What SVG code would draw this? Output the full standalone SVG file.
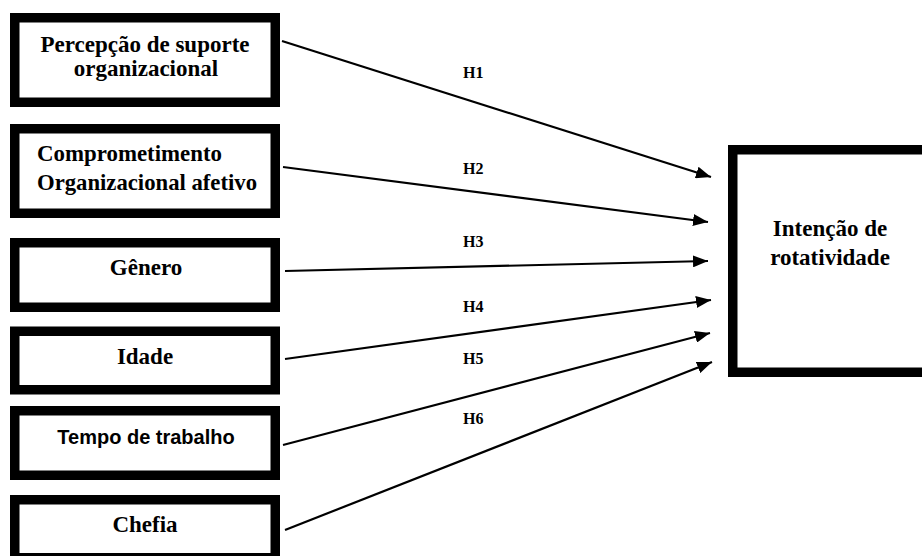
<svg xmlns="http://www.w3.org/2000/svg" width="922" height="556" viewBox="0 0 922 556">
<style>
.box{fill:#fff;stroke:#000;stroke-width:9.5}
.t{font-family:"Liberation Serif","Times New Roman",serif;font-weight:bold;font-size:23px;fill:#000;text-anchor:middle}
.s{font-family:"Liberation Sans",Arial,sans-serif;font-weight:bold;font-size:20px;fill:#000;text-anchor:middle}
.h{font-family:"Liberation Serif","Times New Roman",serif;font-weight:bold;font-size:16px;fill:#000}
.c{stroke:#000;stroke-width:2.2;fill:none;marker-end:url(#ah)}
</style>
<defs>
<marker id="ah" markerUnits="userSpaceOnUse" markerWidth="16" markerHeight="12" refX="15" refY="6" orient="auto">
<path d="M0,0 L15,6 L0,12 Z" fill="#000"/>
</marker>
</defs>
<rect width="922" height="556" fill="#fff"/>
<g id="connectors">
<line class="c" x1="282" y1="41" x2="711" y2="177"/>
<line class="c" x1="283" y1="167" x2="708" y2="222"/>
<line class="c" x1="285" y1="271" x2="708" y2="261"/>
<line class="c" x1="285" y1="359" x2="711" y2="300"/>
<line class="c" x1="283" y1="445" x2="710" y2="333"/>
<line class="c" x1="285" y1="530" x2="712" y2="362"/>
<text class="h" x="463" y="78">H1</text>
<text class="h" x="463" y="174">H2</text>
<text class="h" x="463" y="247">H3</text>
<text class="h" x="463" y="312">H4</text>
<text class="h" x="463" y="364">H5</text>
<text class="h" x="463" y="424">H6</text>
</g>
<g id="n1">
<rect class="box" x="14.75" y="17.75" width="260.5" height="84.5"/>
<text class="t" x="145" y="52">Percepção de suporte</text>
<text class="t" x="146" y="76">organizacional</text>
</g>
<g id="n2">
<rect class="box" x="14.75" y="128.75" width="260.5" height="84.5"/>
<text class="t" x="37" y="161" style="text-anchor:start" textLength="185" lengthAdjust="spacingAndGlyphs">Comprometimento</text>
<text class="t" x="37" y="190" style="text-anchor:start" textLength="220" lengthAdjust="spacingAndGlyphs">Organizacional afetivo</text>
</g>
<g id="n3">
<rect class="box" x="14.75" y="242.75" width="260.5" height="64.5"/>
<text class="t" x="146" y="275">Gênero</text>
</g>
<g id="n4">
<rect class="box" x="14.75" y="331.25" width="260.5" height="58.5"/>
<text class="t" x="145" y="364">Idade</text>
</g>
<g id="n5">
<rect class="box" x="14.75" y="410.75" width="260.5" height="64.5"/>
<text class="s" x="146" y="444">Tempo de trabalho</text>
</g>
<g id="n6">
<rect class="box" x="14.75" y="499.75" width="260.5" height="58"/>
<text class="t" x="145" y="532">Chefia</text>
</g>
<g id="n7">
<rect class="box" x="732.75" y="149.75" width="220" height="222.5"/>
<text class="t" x="830" y="236">Intenção de</text>
<text class="t" x="830" y="265">rotatividade</text>
</g>
</svg>
